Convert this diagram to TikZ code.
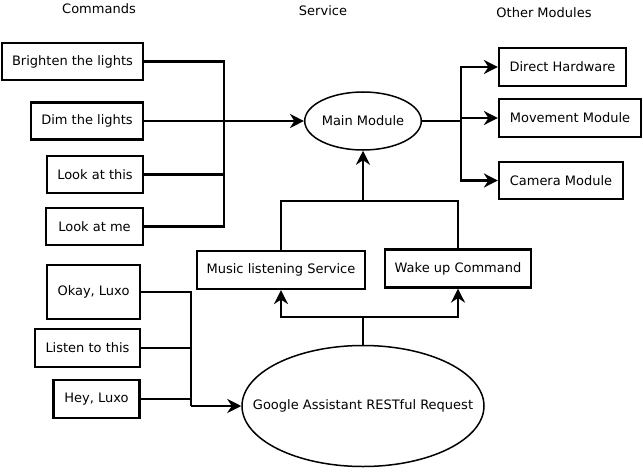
\documentclass[tikz,border=0pt]{standalone}
\usepackage{fontspec}
\setmainfont{DejaVu Sans}
\usetikzlibrary{arrows.meta,shapes.geometric}
\begin{document}
\begin{tikzpicture}[x=1pt,y=-1pt,line width=2.2pt,
    font=\fontsize{13}{15}\selectfont,
    cmdbox/.style={draw,rectangle,inner sep=0pt,minimum height=37pt},
    oval/.style={draw,ellipse,inner sep=0pt,line width=1.5pt},
    header/.style={inner sep=0pt},
    arrow/.style={-{Stealth[length=14pt,width=14pt,inset=4.5pt]}}]
                \useasboundingbox (0,0) rectangle (642,468);
                \node[header] (hcmd) at (99,9) {Commands};
                \node[header] (hsrv) at (323,11) {Service};
                \node[header] (hmod) at (544,13) {Other Modules};

                \node[cmdbox,minimum width=141pt] (bright) at (72.5,61.5) {Brighten the lights};
                \node[cmdbox,minimum width=112pt] (dim) at (87,121) {Dim the lights};
                \node[cmdbox,minimum width=96pt] (lookthis) at (95,174.5) {Look at this};
                \node[cmdbox,minimum width=97pt] (lookme) at (94.5,226.5) {Look at me};
                \node[cmdbox,minimum width=93pt,minimum height=54pt] (okay) at (93.5,292) {Okay, Luxo};
                \node[cmdbox,minimum width=105pt,minimum height=38pt] (listen) at (87.5,348) {Listen to this};
                \node[cmdbox,minimum width=86pt,minimum height=38pt] (hey) at (96.5,399) {Hey, Luxo};

                \node[oval,minimum width=116pt,minimum height=58pt] (main) at (363,121) {Main Module};
                \node[cmdbox,minimum width=168pt,minimum height=38pt] (music) at (281,270) {Music listening Service};
                \node[cmdbox,minimum width=146pt,minimum height=38pt] (wake) at (458,268.5) {Wake up Command};
                \node[oval,minimum width=242pt,minimum height=121pt,
                      label={[inner sep=0pt]center:Google Assistant RESTful Request}] (google) at (363,406) {};

                \node[cmdbox,minimum width=127pt,minimum height=38pt] (hw) at (562.5,67) {Direct Hardware};
                \node[cmdbox,minimum width=142pt,minimum height=38pt] (move) at (570,118) {Movement Module};
                \node[cmdbox,minimum width=124pt] (cam) at (561,180.5) {Camera Module};

                \coordinate (cjoin) at (224,121);
                \draw (bright.east) -| (cjoin);
                \draw (lookthis.east) -| (cjoin);
                \draw (lookme.east) -| (cjoin);
                \draw[arrow] (dim.east) -- (main.west);

                \coordinate (ojoin) at (461,121);
                \draw (main.east) -- (ojoin);
                \draw[arrow] (ojoin) |- (hw.west);
                \draw[arrow] (ojoin) |- (move.west);
                \draw[arrow] (ojoin) |- (cam.west);

                \coordinate (sjoin) at (363,201);
                \draw (music.north) |- (sjoin) -| (wake.north);
                \draw[arrow] (sjoin) -- (main.south);

                \coordinate (gjoin) at (363,317);
                \draw (google.north) -- (gjoin);
                \draw[arrow] (gjoin) -| (music.south);
                \draw[arrow] (gjoin) -| (wake.south);

                \coordinate (vjoin) at (191,406);
                \draw (okay.east) -| (vjoin);
                \draw (listen.east) -| (vjoin);
                \draw (hey.east) -| (vjoin);
                \draw[arrow] (vjoin) -- (google.west);
\end{tikzpicture}
\end{document}
